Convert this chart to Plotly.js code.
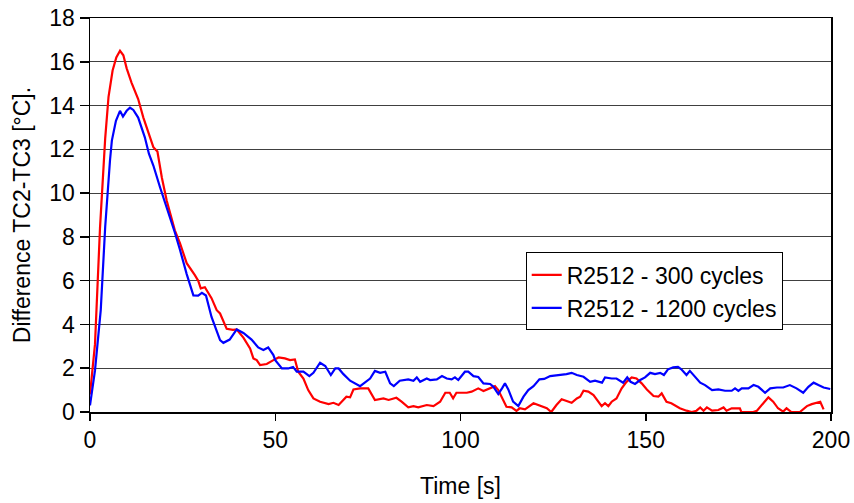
<!DOCTYPE html>
<html>
<head>
<meta charset="utf-8">
<script src="https://cdn.plot.ly/plotly-3.0.1.min.js"></script>
<style>html,body{margin:0;padding:0;background:#fff;}#chart{width:854px;height:503px;}</style>
</head>
<body>
<div id="chart"></div>
<script>
// Time [s] and temperature difference [°C] for each series
const red_x = [0,1.35,2.7,4.1,5.0,6.1,7.1,8.1,9.0,9.9,11.2,13.0,14.4,16.2,17.1,18.2,19.4,20.7,22.9,24.3,26.1,28.3,29.2,29.9,31.0,32.8,34.2,35.1,36.9,38.6,39.6,41.4,43.2,44.1,45.0,45.9,47.7,49.5,50.9,52.6,54.0,55.3,56.2,57.6,58.9,60.3,62.1,64.4,65.7,67.1,69.2,70.2,71.1,72.9,75.1,76.9,79.2,80.6,82.7,84.1,85.9,87.3,88.6,90.9,92.7,94.5,95.9,97.1,98.0,98.9,101.7,103.0,104.8,106.2,108.0,109.3,110.2,111.5,112.4,113.8,115.1,116.0,117.4,119.7,121.5,123.3,124.5,125.9,127.3,128.6,130.0,131.4,132.3,133.2,134.5,135.9,137.2,138.1,139.0,139.9,140.8,142.1,143.5,144.8,146.2,147.5,148.9,150.3,152.1,153.4,154.3,155.6,156.9,159.2,161.0,162.4,163.7,164.7,165.6,166.5,167.9,169.6,171.0,171.8,173.2,175.4,175.8,179.0,180.0,181.3,183.1,184.4,185.7,187.1,188.0,189.3,191.6,193.5,194.8,197.1,198.0];
const red_y = [0.8,3.1,8.4,12.5,14.4,15.6,16.2,16.5,16.3,15.7,15.05,14.3,13.45,12.5,12.1,11.9,10.7,9.66,8.3,7.7,6.8,6.25,6.0,5.65,5.7,5.2,4.65,4.5,3.8,3.75,3.77,3.4,2.9,2.45,2.37,2.14,2.19,2.37,2.49,2.45,2.37,2.4,1.84,1.53,1.0,0.62,0.47,0.36,0.42,0.32,0.70,0.67,1.03,1.08,1.08,0.55,0.62,0.55,0.65,0.47,0.21,0.27,0.21,0.32,0.27,0.47,0.88,0.88,0.62,0.88,0.88,0.93,1.08,0.96,1.08,1.18,1.0,0.55,0.24,0.21,0.05,0.17,0.12,0.4,0.3,0.17,0.0,0.32,0.58,0.52,0.42,0.62,0.7,0.97,0.93,0.77,0.47,0.27,0.4,0.27,0.47,0.62,1.08,1.38,1.58,1.53,1.31,1.03,0.73,0.7,0.85,0.47,0.4,0.17,0.06,0.0,0.06,0.21,0.06,0.21,0.06,0.09,0.21,0.06,0.17,0.17,0.0,0.0,0.06,0.32,0.67,0.47,0.17,0.02,0.17,0.0,0.0,0.27,0.36,0.47,0.12];

const blue_x = [0,1.35,2.9,4.1,5.4,5.9,7.0,8.1,8.9,9.9,10.8,11.7,13.0,13.9,14.8,15.9,17.1,18.9,20.7,22.9,24.3,26.1,27.9,29.2,30.2,31.3,32.8,35.1,36.0,37.7,39.6,41.4,43.6,45.4,46.8,48.1,49.5,50.0,51.8,53.5,54.8,55.8,57.6,59.2,60.3,62.1,63.5,65.0,66.2,67.1,68.4,70.2,72.9,75.6,76.9,78.3,79.7,81.0,82.0,83.6,85.9,87.3,88.2,89.1,90.9,91.8,93.6,95.0,96.3,97.6,98.5,99.4,101.2,102.1,103.5,104.8,106.2,108.0,108.9,110.2,111.2,112.0,112.9,114.2,115.6,117.0,118.3,119.7,121.3,122.6,124.2,126.9,128.6,130.0,131.4,133.2,135.0,136.3,138.2,139.0,140.8,142.1,143.9,145.0,145.9,147.1,148.5,149.8,151.2,152.5,153.9,154.9,156.0,157.4,158.7,159.6,161.0,161.9,163.3,164.7,166.0,167.9,169.6,171.4,173.2,174.1,175.0,175.9,177.7,179.1,180.4,182.2,183.6,185.4,187.1,188.9,190.7,192.5,193.9,195.3,196.6,198.0,199.8];
const blue_y = [0.3,1.9,4.65,8.45,11.5,12.4,13.3,13.76,13.5,13.76,13.9,13.8,13.45,13.0,12.55,11.8,11.26,10.27,9.36,8.2,7.4,6.3,5.33,5.32,5.44,5.32,4.34,3.28,3.16,3.31,3.77,3.61,3.31,2.95,2.83,2.95,2.6,2.37,1.99,1.99,2.06,1.84,1.84,1.64,1.79,2.25,2.1,1.69,1.99,1.99,1.73,1.43,1.18,1.53,1.88,1.79,1.84,1.31,1.18,1.43,1.49,1.43,1.58,1.38,1.53,1.46,1.49,1.64,1.53,1.49,1.58,1.46,1.84,1.84,1.64,1.6,1.31,1.28,1.15,0.82,1.08,1.31,1.03,0.47,0.27,0.7,1.0,1.18,1.49,1.51,1.64,1.69,1.73,1.79,1.69,1.61,1.38,1.43,1.34,1.58,1.53,1.53,1.34,1.58,1.38,1.28,1.46,1.58,1.79,1.73,1.79,1.69,1.95,2.04,2.06,1.95,1.69,1.88,1.61,1.34,1.23,1.0,1.03,0.97,0.97,1.08,0.97,1.08,1.08,1.23,1.15,0.88,1.08,1.12,1.12,1.23,1.08,0.88,1.15,1.34,1.23,1.12,1.05];

const series_names = ["R2512 - 300 cycles", "R2512 - 1200 cycles"];
const x_ticks = [0, 50, 100, 150, 200];
const y_ticks = [0, 2, 4, 6, 8, 10, 12, 14, 16, 18];
const x_title = "Time [s]";
const y_title = "Difference TC2-TC3 [°C].";

const font = "'Liberation Sans', Arial, sans-serif";
const traces = [
  {x: red_x, y: red_y, name: series_names[0], type: 'scatter', mode: 'lines',
   line: {color: '#ff0000', width: 2.2}},
  {x: blue_x, y: blue_y, name: series_names[1], type: 'scatter', mode: 'lines',
   line: {color: '#0000ff', width: 2.2}}
];
const layout = {
  width: 854, height: 503,
  margin: {l: 90, r: 23, t: 18, b: 91},
  paper_bgcolor: '#ffffff', plot_bgcolor: '#ffffff',
  font: {family: font, size: 23, color: '#000'},
  showlegend: true,
  legend: {x: 0.588, y: 0.405, xanchor: 'left', yanchor: 'top',
    bgcolor: '#ffffff', bordercolor: '#000', borderwidth: 1,
    font: {family: font, size: 23, color: '#000'}, tracegroupgap: 0},
  xaxis: {range: [0, 200], tickvals: x_ticks, ticktext: x_ticks.map(String),
    ticks: 'outside', ticklen: 7, tickwidth: 1.5, tickcolor: '#000',
    showline: true, linecolor: '#000', linewidth: 1.5, mirror: true,
    showgrid: false, zeroline: false, automargin: false,
    tickfont: {family: font, size: 23, color: '#000'},
    title: {text: x_title, font: {family: font, size: 23, color: '#000'}, standoff: 26}},
  yaxis: {range: [0, 18], tickvals: y_ticks, ticktext: y_ticks.map(String),
    ticks: 'outside', ticklen: 9, tickwidth: 1.5, tickcolor: '#000',
    showline: true, linecolor: '#000', linewidth: 1.5, mirror: true,
    showgrid: true, gridcolor: '#404040', gridwidth: 1, zeroline: false, automargin: false,
    tickfont: {family: font, size: 23, color: '#000'},
    title: {text: y_title, font: {family: font, size: 23, color: '#000'}, standoff: 12}}
};
Plotly.newPlot('chart', traces, layout, {displayModeBar: false, staticPlot: true});
</script>
</body>
</html>
